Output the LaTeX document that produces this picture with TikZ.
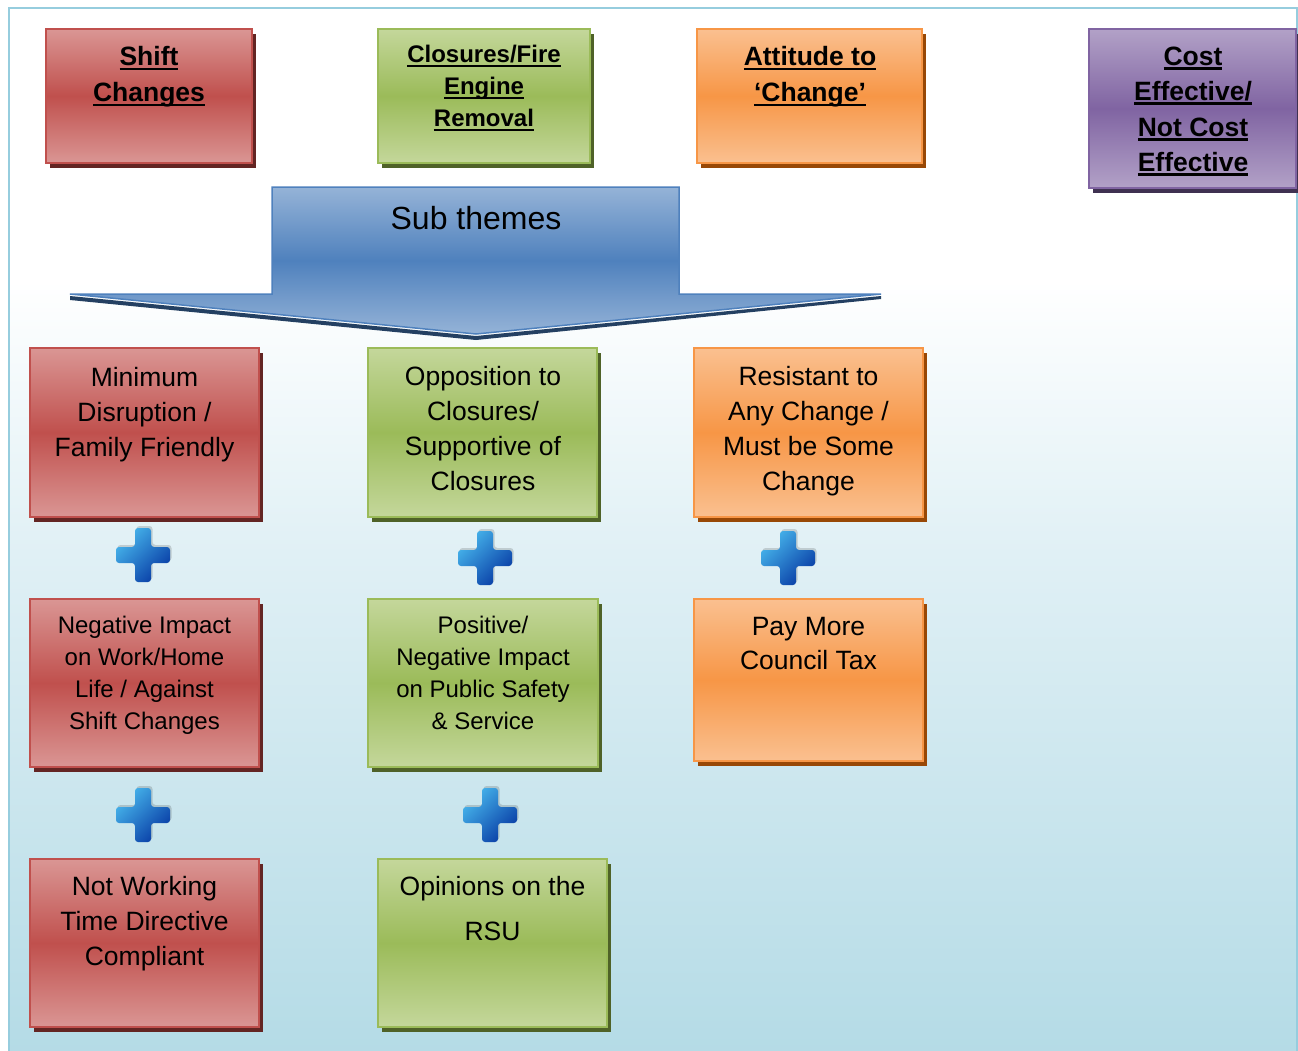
\documentclass[tikz,border=0pt]{standalone}
\usepackage{fontspec}
\setmainfont{Liberation Sans}
\usetikzlibrary{shadows}

\definecolor{framecol}{RGB}{150,205,222}
\definecolor{bgblue}{RGB}{180,219,230}
\definecolor{bgmid}{RGB}{224,240,245}
\definecolor{redline}{RGB}{192,80,77}
\definecolor{redlight}{RGB}{218,150,148}
\definecolor{reddark}{RGB}{192,80,77}
\definecolor{redshadow}{RGB}{99,37,35}
\definecolor{greenline}{RGB}{155,187,89}
\definecolor{greenlight}{RGB}{196,215,155}
\definecolor{greendark}{RGB}{155,187,89}
\definecolor{greenshadow}{RGB}{79,98,40}
\definecolor{orangeline}{RGB}{247,150,70}
\definecolor{orangelight}{RGB}{250,192,144}
\definecolor{orangedark}{RGB}{247,150,70}
\definecolor{orangeshadow}{RGB}{152,72,6}
\definecolor{purpleline}{RGB}{128,100,162}
\definecolor{purplelight}{RGB}{178,161,199}
\definecolor{purpledark}{RGB}{128,100,162}
\definecolor{purpleshadow}{RGB}{63,49,81}
\definecolor{bluelight}{RGB}{149,179,215}
\definecolor{bluedark}{RGB}{79,129,189}
\definecolor{blueshadow}{RGB}{36,64,98}
\definecolor{plushi}{RGB}{70,180,235}
\definecolor{pluslo}{RGB}{8,60,165}

\pgfdeclareverticalshading{bgshade}{100bp}{color(0bp)=(bgblue); color(25bp)=(bgblue); color(49bp)=(bgmid); color(62bp)=(white); color(100bp)=(white)}

\newcommand{\hdul}[1]{\setbox0=\hbox{#1}\rlap{\rule[-4.5pt]{\wd0}{2.6pt}}\box0}

\tikzset{every picture/.style={line width=1pt}}
\tikzset{
  themebox/.style={line width=2pt, shading=axis, inner sep=0pt, minimum width=229pt, minimum height=169pt},
  redbox/.style={themebox, draw=redline, top color=redlight, bottom color=redlight, middle color=reddark,
    general shadow={fill=redshadow, shadow xshift=4pt, shadow yshift=-5pt}},
  greenbox/.style={themebox, draw=greenline, top color=greenlight, bottom color=greenlight, middle color=greendark,
    general shadow={fill=greenshadow, shadow xshift=4pt, shadow yshift=-5pt}},
  orangebox/.style={themebox, draw=orangeline, top color=orangelight, bottom color=orangelight, middle color=orangedark,
    general shadow={fill=orangeshadow, shadow xshift=4pt, shadow yshift=-5pt}},
  purplebox/.style={themebox, draw=purpleline, top color=purplelight, bottom color=purplelight, middle color=purpledark,
    general shadow={fill=purpleshadow, shadow xshift=4pt, shadow yshift=-5pt}},
  hdtext/.style={anchor=north, align=center, inner sep=0pt, font=\bfseries\fontsize{26.5}{36}\selectfont},
  bodytext/.style={anchor=north, align=center, inner sep=0pt, font=\fontsize{26.5}{35}\selectfont},
  smalltext/.style={anchor=north, align=center, inner sep=0pt, font=\fontsize{24}{31.8}\selectfont},
  plusicon/.pic={
    \fill[black, opacity=0.15, rounded corners=3pt, shift={(1.5,2)}] (-8,-27) -- (8,-27) -- (8,-8) -- (27,-8) -- (27,8) -- (8,8) -- (8,27) -- (-8,27) -- (-8,8) -- (-27,8) -- (-27,-8) -- (-8,-8) -- cycle;
    \shade[top color=plushi, bottom color=pluslo, shading angle=45, rounded corners=3pt] (-8,-27) -- (8,-27) -- (8,-8) -- (27,-8) -- (27,8) -- (8,8) -- (8,27) -- (-8,27) -- (-8,8) -- (-27,8) -- (-27,-8) -- (-8,-8) -- cycle;
  }
}

\begin{document}
\begin{tikzpicture}[x=1pt,y=1pt,yscale=-1,xscale=1]
\useasboundingbox (0,0) rectangle (1298,1050);

%Background
\shade[shading=bgshade, draw=framecol, line width=2pt] (9,8) rectangle (1297,1056);

%Main themes
\node[redbox, minimum width=206pt, minimum height=134pt] (shift) at (149,96) {};
\node[greenbox, minimum width=212pt, minimum height=134pt] (closures) at (484,96) {};
\node[orangebox, minimum width=225pt, minimum height=134pt] (attitude) at (809.5,96) {};
\node[purplebox, minimum width=207pt, minimum height=159pt] (cost) at (1192.5,108.5) {};

% Text Node
\node[hdtext] (shifttxt) at (149,46) {\hdul{Shift}\\\hdul{Changes}};
% Text Node
\node[hdtext, font=\bfseries\fontsize{24}{32}\selectfont] (closurestxt) at (484,45) {\hdul{Closures/Fire}\\\hdul{Engine}\\\hdul{Removal}};
% Text Node
\node[hdtext] (attitudetxt) at (810,46) {\hdul{Attitude to}\\\hdul{‘Change’}};
% Text Node
\node[hdtext, font=\bfseries\fontsize{26.5}{35.5}\selectfont] (costtxt) at (1193,46) {\hdul{Cost}\\\hdul{Effective/}\\\hdul{Not Cost}\\\hdul{Effective}};

%Shape: Sub themes arrow
\fill[blueshadow] (70,296) -- (476,336) -- (881,296) -- (881,299) -- (476,340) -- (70,300) -- cycle;
\shade[top color=bluelight, bottom color=bluelight, middle color=bluedark, draw=bluedark, line width=1.5pt]
  (272,187) -- (679,187) -- (679,294) -- (881,294) -- (476,334) -- (70,294) -- (272,294) -- cycle;
% Text Node
\node[font=\fontsize{32}{38}\selectfont, inner sep=0pt] (subthemes) at (476,218) {Sub themes};

%Sub themes, first row
\node[redbox] (minimum) at (144.5,432.5) {};
\node[greenbox] (opposition) at (482.5,432.5) {};
\node[orangebox] (resistant) at (808.5,432.5) {};
% Text Node
\node[bodytext] (minimumtxt) at (144.5,366.5) {Minimum\\Disruption /\\Family Friendly};
% Text Node
\node[bodytext] (oppositiontxt) at (483,366) {Opposition to\\Closures/\\Supportive of\\Closures};
% Text Node
\node[bodytext] (resistanttxt) at (808.5,366) {Resistant to\\Any Change /\\Must be Some\\Change};

%Plus signs
\pic (plusa) at (143,555) {plusicon};
\pic (plusb) at (485,558) {plusicon};
\pic (plusc) at (788,558) {plusicon};

%Sub themes, second row
\node[redbox, minimum height=168pt] (negative) at (144.5,683) {};
\node[greenbox, minimum width=230pt, minimum height=168pt] (positive) at (483,683) {};
\node[orangebox, minimum height=162pt] (paymore) at (808.5,680) {};
% Text Node
\node[smalltext] (negativetxt) at (144.5,616) {Negative Impact\\on Work/Home\\Life / Against\\Shift Changes};
% Text Node
\node[smalltext] (positivetxt) at (483,616) {Positive/\\Negative Impact\\on Public Safety\\\& Service};
% Text Node
\node[bodytext, font=\fontsize{26.5}{34}\selectfont] (paymoretxt) at (808.5,617) {Pay More\\Council Tax};

%Plus signs
\pic (plusd) at (143,815) {plusicon};
\pic (pluse) at (490,815) {plusicon};

%Sub themes, third row
\node[redbox, minimum height=168pt] (notworking) at (144.5,943) {};
\node[greenbox, minimum height=168pt] (opinions) at (492.5,943) {};
% Text Node
\node[bodytext] (notworkingtxt) at (144.5,876) {Not Working\\Time Directive\\Compliant};
% Text Node
\node[bodytext, font=\fontsize{26.5}{45}\selectfont] (opinionstxt) at (492.5,876) {Opinions on the\\RSU};

\end{tikzpicture}
\end{document}
